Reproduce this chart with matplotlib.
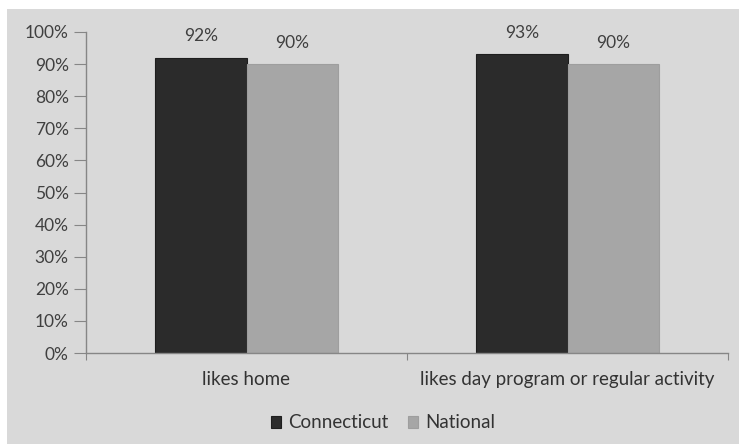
import numpy as np
import matplotlib
matplotlib.use("Agg")
import matplotlib.pyplot as plt
from matplotlib.patches import Rectangle
from matplotlib.ticker import FuncFormatter

# data
categories = ["likes home", "likes day program or regular activity"]
connecticut = [92, 93]
national = [90, 90]
series_names = ["Connecticut", "National"]
series_colors = ["#2b2b2b", "#a6a6a6"]

plt.rcParams['font.family'] = ['Lato', 'DejaVu Sans']

fig = plt.figure(figsize=(7.39, 4.46), dpi=100, facecolor="white")
# grey chart area with a thin white margin top/left like the original
fig.patches.append(Rectangle((7/739, 2/446), 1 - 7/739, 1 - 11/446,
                             transform=fig.transFigure, facecolor="#d9d9d9",
                             edgecolor="none", zorder=-10))

ax = fig.add_axes([86/739, 1 - 353/446, (728 - 86)/739, (353 - 32)/446])
ax.set_facecolor("none")

x = np.arange(len(categories))
w = 0.285
b1 = ax.bar(x - w/2, connecticut, w, color=series_colors[0], edgecolor="#1e1e1e",
            linewidth=0.8, label=series_names[0])
b2 = ax.bar(x + w/2, national, w, color=series_colors[1], edgecolor="#9e9e9e",
            linewidth=0.8, label=series_names[1])

for bars, vals in [(b1, connecticut), (b2, national)]:
    for r, v in zip(bars, vals):
        ax.text(r.get_x() + r.get_width()/2, v + 6.6, "%d%%" % v,
                ha="center", va="center", fontsize=12.5, color="#404040")

ax.set_xlim(-0.5, 1.5)
ax.set_ylim(0, 100)
ax.set_yticks(np.arange(0, 101, 10))
ax.yaxis.set_major_formatter(FuncFormatter(lambda v, p: "%d%%" % v))
ax.set_xticks([-0.5, 0.5, 1.5])
ax.set_xticklabels([])
ax.set_xticks(x, minor=True)
ax.set_xticklabels(categories, minor=True)
ax.tick_params(axis="x", which="minor", length=0, pad=13, labelsize=13.5, labelcolor="#333333")
ax.tick_params(axis="x", which="major", length=5, color="#868686")
ax.tick_params(axis="y", length=8.5, color="#868686", labelsize=12.5, labelcolor="#404040", pad=4)

for s in ["top", "right"]:
    ax.spines[s].set_visible(False)
for s in ["left", "bottom"]:
    ax.spines[s].set_color("#868686")
    ax.spines[s].set_linewidth(1)

leg = fig.legend(handles=[b1, b2], labels=series_names, loc="center",
                 bbox_to_anchor=(383/739, 1 - 423/446), ncol=2, frameon=False,
                 fontsize=13.5, handlelength=0.55, handleheight=0.55, handletextpad=0.4,
                 columnspacing=1.0)
for t in leg.get_texts():
    t.set_color("#333333")

fig.savefig("out.png", dpi=100, facecolor="white")
